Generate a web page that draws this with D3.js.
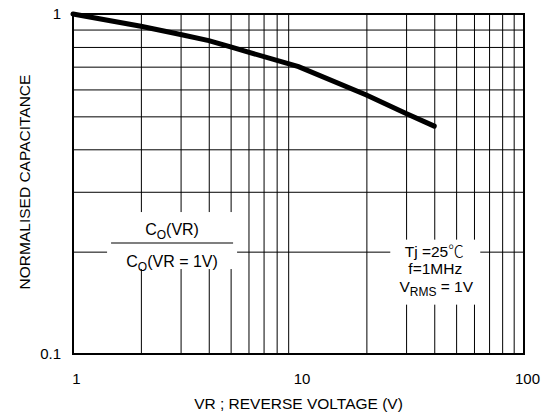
<!DOCTYPE html>
<html>
<head>
<meta charset="utf-8">
<script src="https://cdn.jsdelivr.net/npm/d3@7"></script>
<style>
  body { margin: 0; background: #fff; overflow: hidden; }
  svg { display: block; }
  svg text { font-family: "Liberation Sans", Arial, sans-serif; fill: #000; }
</style>
</head>
<body>
<div id="graph"></div>
<script>
// reverse voltage (V) and normalised capacitance
const voltage = [1, 2, 3, 4, 5, 10, 20, 30, 40];
const capacitance = [1, 0.92, 0.87, 0.835, 0.80, 0.70, 0.578, 0.51, 0.468];

const xTicks = [1, 10, 100];
const yTicks = [0.1, 1];
const xGridValues = [2, 3, 4, 5, 6, 7, 8, 9, 20, 30, 40, 50, 60, 70, 80, 90];
const yGridValues = [0.2, 0.3, 0.4, 0.5, 0.6, 0.7, 0.8, 0.9];

const w = 544;
const h = 414;
const margin = { top: 14, right: 20, bottom: 60, left: 73 };
const innerWidth = w - margin.left - margin.right;
const innerHeight = h - margin.top - margin.bottom;

const xScale = d3.scaleLog().domain([1, 100]).range([margin.left, w - margin.right]);
const yScale = d3.scaleLog().domain([0.1, 1]).range([h - margin.bottom, margin.top]);

const svg = d3.select("#graph").append("svg").attr("width", w).attr("height", h);

// grid
svg.append("g")
  .attr("class", "x-grid")
  .attr("transform", `translate(0, ${margin.top})`)
  .call(d3.axisBottom(xScale).tickValues(xGridValues).tickSize(innerHeight).tickFormat(""))
  .call(g => g.select(".domain").remove())
  .selectAll("line").attr("stroke", "#000");

svg.append("g")
  .attr("class", "y-grid")
  .attr("transform", `translate(${margin.left}, 0)`)
  .call(d3.axisRight(yScale).tickValues(yGridValues).tickSize(innerWidth).tickFormat(""))
  .call(g => g.select(".domain").remove())
  .selectAll("line").attr("stroke", "#000");

// white patches behind the notes
const fracX = xScale(2.75);
const fracY = yScale(0.212);
svg.append("rect")
  .attr("x", fracX - 65).attr("y", fracY - 31)
  .attr("width", 130).attr("height", 57)
  .attr("fill", "#fff");

const noteX = xScale(40);
const noteY = yScale(0.2);
svg.append("rect")
  .attr("x", noteX - 44).attr("y", noteY - 12)
  .attr("width", 90).attr("height", 65)
  .attr("fill", "#fff");

// curve
const line = d3.line()
  .x((d, i) => xScale(voltage[i]))
  .y((d, i) => yScale(capacitance[i]));

svg.append("path")
  .datum(capacitance)
  .attr("d", line)
  .attr("fill", "none")
  .attr("stroke", "#000")
  .attr("stroke-width", 5)
  .attr("stroke-linecap", "round");

// frame
svg.append("rect")
  .attr("x", margin.left).attr("y", margin.top)
  .attr("width", innerWidth).attr("height", innerHeight)
  .attr("fill", "none")
  .attr("stroke", "#000")
  .attr("stroke-width", 2);

// tick labels
svg.append("g")
  .attr("id", "x-axis")
  .attr("transform", `translate(0, ${h - margin.bottom})`)
  .call(d3.axisBottom(xScale).tickValues(xTicks).tickSize(0).tickPadding(19).tickFormat(d3.format("d")))
  .call(g => g.select(".domain").remove())
  .selectAll("text")
  .attr("dx", 3)
  .style("font-size", "15px")
  .style("font-family", "Liberation Sans, Arial, sans-serif");

svg.append("g")
  .attr("id", "y-axis")
  .attr("transform", `translate(${margin.left}, 0)`)
  .call(d3.axisLeft(yScale).tickValues(yTicks).tickSize(0).tickPadding(12).tickFormat(d => d === 1 ? "1" : "0.1"))
  .call(g => g.select(".domain").remove())
  .selectAll("text")
  .style("font-size", "15px")
  .style("font-family", "Liberation Sans, Arial, sans-serif");

// axis titles
svg.append("text")
  .attr("x", xScale(10))
  .attr("y", 409)
  .attr("text-anchor", "middle")
  .style("font-size", "15.5px")
  .text("VR ; REVERSE VOLTAGE (V)");

svg.append("text")
  .attr("transform", `translate(30, 182) rotate(-90)`)
  .attr("text-anchor", "middle")
  .style("font-size", "15.5px")
  .text("NORMALISED CAPACITANCE");

// fraction note
const num = svg.append("text")
  .attr("x", fracX).attr("y", fracY - 8)
  .attr("text-anchor", "middle")
  .style("font-size", "16px");
num.append("tspan").text("C");
num.append("tspan").attr("dy", 4).style("font-size", "12px").text("O");
num.append("tspan").attr("dy", -4).text("(VR)");

svg.append("line")
  .attr("x1", fracX - 61).attr("x2", fracX + 61)
  .attr("y1", fracY).attr("y2", fracY)
  .attr("stroke", "#555")
  .attr("stroke-width", 1.5);

const den = svg.append("text")
  .attr("x", fracX).attr("y", fracY + 24)
  .attr("text-anchor", "middle")
  .style("font-size", "16px");
den.append("tspan").text("C");
den.append("tspan").attr("dy", 4).style("font-size", "12px").text("O");
den.append("tspan").attr("dy", -4).text("(VR = 1V)");

// conditions note
const tj = svg.append("text")
  .attr("x", noteX).attr("y", noteY + 5)
  .attr("text-anchor", "middle")
  .style("font-size", "15.5px");
tj.append("tspan").text("Tj =25");
tj.append("tspan").style("font-family", "Noto Sans CJK SC").style("font-weight", 300).text("\u2103");

svg.append("text")
  .attr("x", noteX + 1).attr("y", noteY + 22.5)
  .attr("text-anchor", "middle")
  .style("font-size", "15.5px")
  .text("f=1MHz");

const vrms = svg.append("text")
  .attr("x", noteX + 2).attr("y", noteY + 40)
  .attr("text-anchor", "middle")
  .style("font-size", "15.5px");
vrms.append("tspan").text("V");
vrms.append("tspan").attr("dy", 4).style("font-size", "12px").text("RMS");
vrms.append("tspan").attr("dy", -4).text(" = 1V");
</script>
</body>
</html>
